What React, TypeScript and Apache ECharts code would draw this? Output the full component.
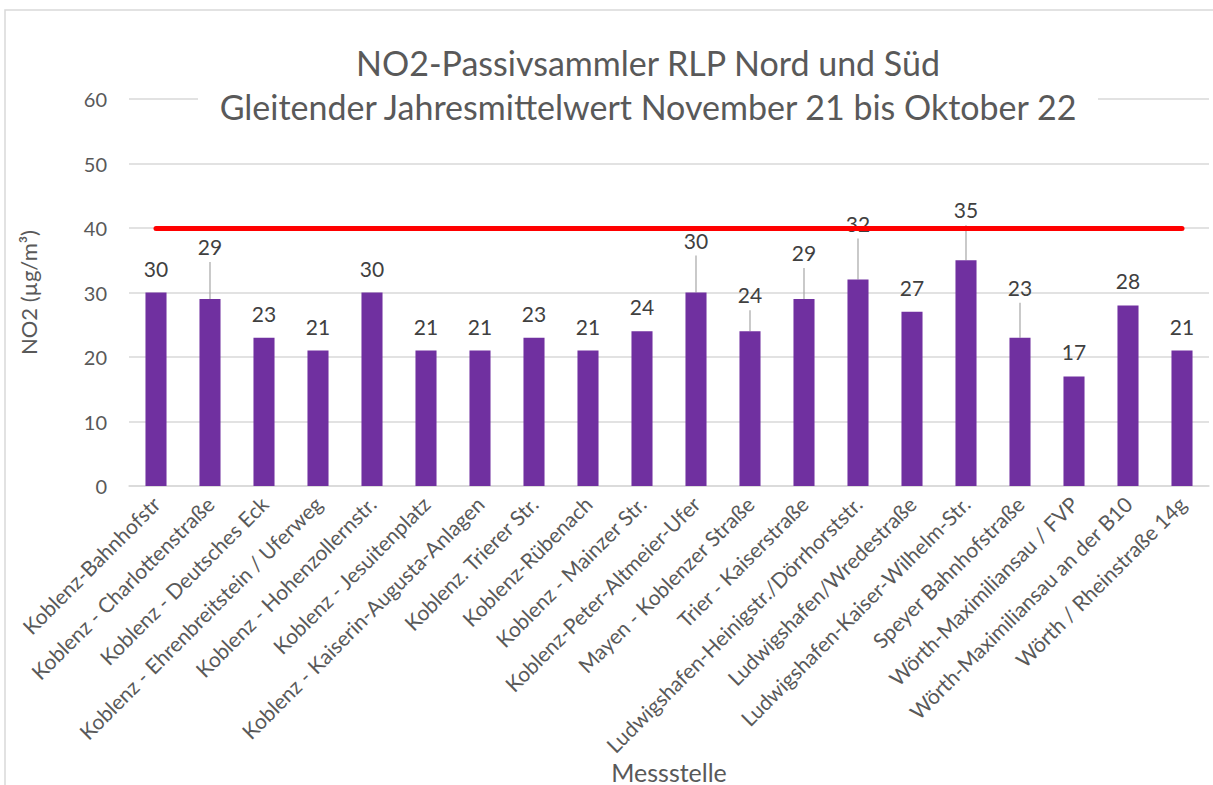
import React, { useEffect, useRef } from "react";
import * as echarts from "echarts";

const categories = [
  "Koblenz-Bahnhofstr",
  "Koblenz - Charlottenstraße",
  "Koblenz - Deutsches Eck",
  "Koblenz - Ehrenbreitstein / Uferweg",
  "Koblenz - Hohenzollernstr.",
  "Koblenz - Jesuitenplatz",
  "Koblenz - Kaiserin-Augusta-Anlagen",
  "Koblenz. Trierer Str.",
  "Koblenz-Rübenach",
  "Koblenz - Mainzer Str.",
  "Koblenz-Peter-Altmeier-Ufer",
  "Mayen - Koblenzer Straße",
  "Trier - Kaiserstraße",
  "Ludwigshafen-Heinigstr./Dörrhorststr.",
  "Ludwigshafen/Wredestraße",
  "Ludwigshafen-Kaiser-Wilhelm-Str.",
  "Speyer Bahnhofstraße",
  "Wörth-Maximiliansau / FVP",
  "Wörth-Maximiliansau an der B10",
  "Wörth / Rheinstraße 14g",
];
const values = [30, 29, 23, 21, 30, 21, 21, 23, 21, 24, 30, 24, 29, 32, 27, 35, 23, 17, 28, 21];
const limitValue = 40;
// extra upward shift of some data labels (drawn with leader lines)
const labelLift = [0, -28, 0, 0, 0, 0, 0, 0, 0, 0, -28, -12, -22, -32, 0, -26, -26, 0, 0, 0];

const titleLine1 = "NO2-Passivsammler RLP Nord und Süd";
const titleLine2 = "Gleitender Jahresmittelwert November 21 bis Oktober 22";
const yName = "NO2 (µg/m³)";
const xName = "Messstelle";

const FONT = "Lato";
const GRAY = "#595959";

export default function App() {
  const ref = useRef<HTMLDivElement>(null);
  useEffect(() => {
    if (!ref.current) return;
    const chart = echarts.init(ref.current, null, { renderer: "svg" });
    const leaderData = values
      .map((v, i) => [i, v, labelLift[i]])
      .filter((d) => d[2] < 0);
    chart.setOption({
      animation: false,
      backgroundColor: "#ffffff",
      textStyle: { fontFamily: FONT },
      grid: { left: 129, right: 4, top: 99, bottom: 297 },
      xAxis: {
        type: "category",
        data: categories,
        name: xName,
        nameLocation: "middle",
        nameGap: 270,
        nameTextStyle: { fontSize: 25, color: GRAY, fontFamily: FONT },
        axisLine: { lineStyle: { color: "#d9d9d9", width: 1.5 } },
        axisTick: { show: false },
        axisLabel: {
          interval: 0,
          rotate: 45,
          fontSize: 21,
          color: GRAY,
          margin: 14,
          fontFamily: FONT,
        },
      },
      yAxis: {
        type: "value",
        min: 0,
        max: 60,
        interval: 10,
        name: yName,
        nameLocation: "middle",
        nameRotate: 90,
        nameGap: 90,
        nameTextStyle: { fontSize: 22, color: GRAY, fontFamily: FONT },
        axisLine: { show: false },
        axisTick: { show: false },
        axisLabel: { fontSize: 20, color: GRAY, margin: 22, fontFamily: FONT },
        splitLine: { lineStyle: { color: "#d9d9d9", width: 1.5 } },
      },
      graphic: [
        {
          type: "rect",
          z: -10,
          shape: { x: 5, y: 10, width: 1260, height: 820 },
          style: { fill: "transparent", stroke: "#d9d9d9", lineWidth: 1.5 },
        },
        {
          type: "rect",
          z: 100,
          shape: { x: 198, y: 84, width: 900, height: 34 },
          style: { fill: "#ffffff" },
        },
        {
          type: "text",
          z: 101,
          x: 648,
          y: 62,
          style: {
            text: titleLine1,
            fontSize: 34,
            fontFamily: FONT,
            fill: GRAY,
            align: "center",
            verticalAlign: "middle",
          },
        },
        {
          type: "text",
          z: 101,
          x: 648,
          y: 106,
          style: {
            text: titleLine2,
            fontSize: 34,
            fontFamily: FONT,
            fill: GRAY,
            align: "center",
            verticalAlign: "middle",
          },
        },
      ],
      series: [
        {
          type: "bar",
          barWidth: "39%",
          itemStyle: { color: "#7030A0" },
          data: values.map((v, i) => ({
            value: v,
            label: { offset: [0, labelLift[i]] },
          })),
          label: {
            show: true,
            position: "top",
            distance: 14,
            fontSize: 21,
            color: "#404040",
            fontFamily: FONT,
          },
          markLine: {
            silent: true,
            symbol: "none",
            label: { show: false },
            lineStyle: { color: "#ff0000", width: 5, type: "solid", cap: "round" },
            data: [
              [
                { xAxis: 0, yAxis: limitValue },
                { xAxis: categories.length - 1, yAxis: limitValue },
              ],
            ],
          },
        },
        {
          type: "custom",
          encode: { x: 0, y: 1 },
          silent: true,
          data: leaderData,
          renderItem: (params: any, api: any) => {
            const p = api.coord([api.value(0), api.value(1)]);
            const lift = api.value(2);
            return {
              type: "line",
              shape: { x1: p[0], y1: p[1], x2: p[0], y2: p[1] + lift - 9 },
              style: { stroke: "#a6a6a6", lineWidth: 1.2 },
            };
          },
        },
      ],
    });
    return () => chart.dispose();
  }, []);
  return (
    <div
      ref={ref}
      style={{ position: "fixed", left: 0, top: 0, width: 1213, height: 785 }}
    />
  );
}
